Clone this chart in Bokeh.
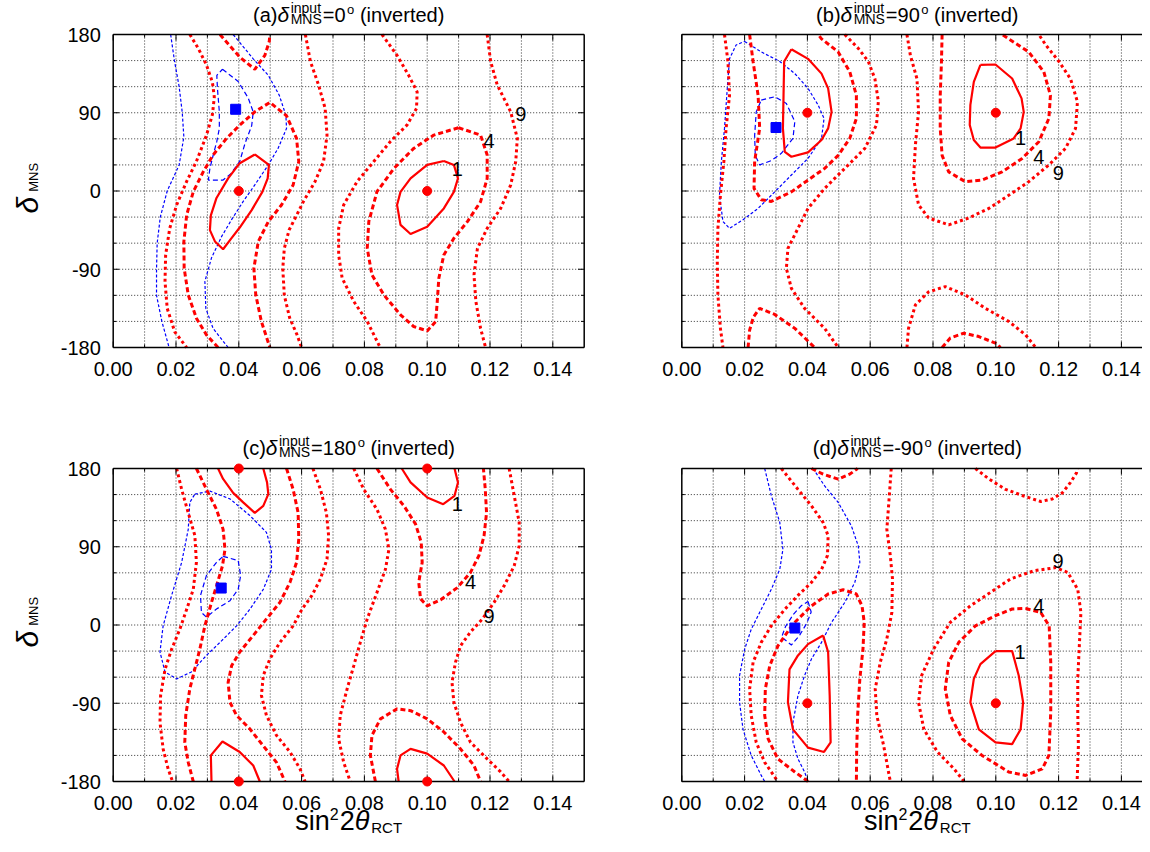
import math
from bokeh.plotting import figure
from bokeh.models import Range1d
from bokeh.core.properties import value
from bokeh.layouts import column, row
from bokeh.embed import file_html
from bokeh.resources import INLINE

FONT = "Liberation Sans"
RED = "#ff0000"
BLUE = "#0000ff"

# ---------------- axes ----------------
x_range_box = [0.0, 0.15]
y_range_box = [-180, 180]
x_major = [0.00, 0.02, 0.04, 0.06, 0.08, 0.10, 0.12, 0.14]
x_minor = [0.01, 0.03, 0.05, 0.07, 0.09, 0.11, 0.13]
x_tick_labels = ["0.00", "0.02", "0.04", "0.06", "0.08", "0.10", "0.12", "0.14"]
y_major = [-180, -90, 0, 90, 180]
y_minor = [-150, -120, -60, -30, 30, 60, 120, 150]
y_tick_labels = ["-180", "-90", "0", "90", "180"]

# ---------------- panel (a) delta_input = 0 ----------------
a_r1_left_x = [0.0451, 0.0496, 0.0492, 0.0475, 0.0441, 0.0403, 0.0375, 0.0350, 0.0324, 0.0308, 0.0311, 0.0329, 0.0366, 0.0403, 0.0451]
a_r1_left_y = [42, 30, 14.5, -1, -22, -42, -55, -67, -58, -45, -28, -8, 14.5, 32, 42]
a_r1_right_x = [0.1053, 0.1085, 0.1098, 0.1085, 0.1053, 0.1000, 0.0947, 0.0915, 0.0904, 0.0915, 0.0947, 0.1000, 0.1053]
a_r1_right_y = [34.5, 30, 14.5, -1, -20, -41, -49.4, -39, -16, -1, 14.5, 30, 34.5]
a_r4_left_x = [0.0334, 0.0297, 0.0265, 0.0239, 0.0226, 0.0225, 0.0234, 0.0255, 0.0287, 0.0318, 0.0361, 0.0403, 0.0451, 0.0499, 0.0552, 0.0584, 0.0591, 0.0573, 0.0536, 0.0494, 0.0462, 0.0448, 0.0454, 0.0472, 0.0499]
a_r4_left_y = [-180, -165.5, -146.3, -119.5, -88.9, -58.2, -27.6, -0.8, 22.2, 41.4, 60.5, 75.8, 91.1, 101.9, 86.5, 60.5, 33.7, 6.9, -16.1, -35.2, -58.2, -88.9, -119.5, -150.1, -180]
a_r4_top_x = [0.0340, 0.0403, 0.0451, 0.0483, 0.0497, 0.0499]
a_r4_top_y = [180, 154, 140, 156, 172, 180]
a_r4_right_x = [0.1100, 0.1170, 0.1191, 0.1191, 0.1170, 0.1128, 0.1085, 0.1053, 0.1037, 0.1032, 0.1027, 0.1000, 0.0957, 0.0915, 0.0862, 0.0824, 0.0809, 0.0814, 0.0840, 0.0894, 0.0957, 0.1021, 0.1100]
a_r4_right_y = [72.8, 64.3, 41.4, 14.5, -12.3, -35.2, -54.4, -73.5, -100.4, -127.2, -150.1, -160.9, -155.9, -142.5, -119.5, -96.5, -65.9, -35.2, -0.8, 26, 49, 64.3, 72.8]
a_r9_1_x = [0.0244, 0.0271, 0.0297, 0.0316, 0.0322, 0.0316, 0.0297, 0.0265, 0.0234, 0.0202, 0.0180, 0.0167, 0.0165, 0.0172, 0.0196, 0.0234]
a_r9_1_y = [180, 164, 145, 125, 108, 88, 64, 34, 11, -16, -43, -73.5, -104, -135, -162, -180]
a_r9_2_x = [0.0612, 0.0628, 0.0654, 0.0675, 0.0681, 0.0670, 0.0643, 0.0606, 0.0584, 0.0560, 0.0545, 0.0540, 0.0545, 0.0562, 0.0585, 0.0600]
a_r9_2_y = [180, 149, 122, 95, 64, 34, 11, -12, -28, -45, -66, -89, -120, -146, -165, -180]
a_r9_3_x = [0.0856, 0.0904, 0.0941, 0.0968, 0.0966, 0.0936, 0.0883, 0.0830, 0.0777, 0.0734, 0.0718, 0.0718, 0.0729, 0.0766, 0.0809, 0.0846, 0.0851]
a_r9_3_y = [180, 156, 133, 114, 95, 76, 57, 34, 11, -16, -43, -73.5, -100, -127, -150, -177, -180]
a_r9_4_x = [0.1191, 0.1202, 0.1223, 0.1266, 0.1287, 0.1282, 0.1266, 0.1234, 0.1191, 0.1160, 0.1149, 0.1155, 0.1170, 0.1186]
a_r9_4_y = [180, 149, 122, 91, 60.5, 34, 7, -20, -43, -66, -96.5, -127, -158, -180]
a_b1_x = [0.0348, 0.0398, 0.0430, 0.0446, 0.0441, 0.0420, 0.0403, 0.0375, 0.0350, 0.0303, 0.0308, 0.0319, 0.0330, 0.0338, 0.0338, 0.0332, 0.0330, 0.0348]
a_b1_y = [140, 126, 107, 91, 75, 55, 34, 20, 12.6, 12.6, 26, 42, 57, 72, 91, 118, 133, 140]
a_b4_left_x = [0.0183, 0.0195, 0.0210, 0.0220, 0.0225, 0.0210, 0.0172, 0.0150, 0.0140, 0.0138, 0.0138, 0.0155, 0.0178]
a_b4_left_y = [180, 150, 120, 90, 62, 30, 0, -30, -60, -90, -120, -150, -180]
a_b4_right_x = [0.0382, 0.0446, 0.0494, 0.0529, 0.0550, 0.0552, 0.0525, 0.0494, 0.0451, 0.0414, 0.0377, 0.0345, 0.0313, 0.0292, 0.0295, 0.0318, 0.0366]
a_b4_right_y = [180, 152, 133, 110, 87, 72, 49, 30, 7, -12, -33, -52.5, -77, -104, -135, -158, -180]
a_best_x = [0.04, 0.10]
a_best_y = [0, 0]
a_fit_x = [0.039]
a_fit_y = [94]
a_lbl_t = ["1", "4", "9"]
a_lbl_x = [0.1096, 0.1197, 0.1298]
a_lbl_y = [25, 58, 89]

# ---------------- panel (b) delta_input = 90 ----------------
b_r1_left_x = [0.0349, 0.0402, 0.0445, 0.0466, 0.0477, 0.0466, 0.0445, 0.0402, 0.0349, 0.0328, 0.0322, 0.0324, 0.0326, 0.0349]
b_r1_left_y = [163, 152, 135, 118, 91, 72, 58.6, 44.4, 39.4, 45, 72, 110, 149, 163]
b_r1_right_x = [0.0951, 0.0999, 0.1052, 0.1082, 0.1089, 0.1079, 0.1057, 0.0999, 0.0951, 0.0930, 0.0917, 0.0919, 0.0930, 0.0951]
b_r1_right_y = [145, 145.5, 129.4, 106.5, 91, 72, 60.5, 50, 50, 58.6, 76, 99, 125.6, 145]
b_r4_left_x = [0.0216, 0.0227, 0.0243, 0.0248, 0.0232, 0.0230, 0.0253, 0.0285, 0.0349, 0.0402, 0.0455, 0.0498, 0.0535, 0.0556, 0.0556, 0.0535, 0.0498, 0.0445, 0.0434]
b_r4_left_y = [180, 149, 110, 72, 34, 3, -10, -12, -1, 12.6, 26, 41, 60.5, 83.5, 110, 137, 160, 175, 180]
b_r4_bl_x = [0.0211, 0.0216, 0.0228, 0.0248, 0.0296, 0.0360, 0.0423]
b_r4_bl_y = [-180, -160, -145, -135, -142, -158, -180]
b_r4_right_x = [0.0829, 0.0827, 0.0823, 0.0823, 0.0829, 0.0850, 0.0903, 0.0956, 0.1020, 0.1084, 0.1137, 0.1169, 0.1174, 0.1153, 0.1105, 0.1041, 0.1020]
b_r4_right_y = [180, 149, 110, 72, 41, 22, 10.7, 12.6, 22, 37.5, 56.7, 83.5, 110, 137, 160, 175, 180]
b_r4_br_x = [0.0829, 0.0855, 0.0898, 0.0946, 0.0999, 0.1015]
b_r4_br_y = [-180, -169, -163.6, -167.4, -175, -180]
b_r9_1_x = [0.0136, 0.0147, 0.0152, 0.0141, 0.0134, 0.0123, 0.0115, 0.0113, 0.0115, 0.0123, 0.0131]
b_r9_1_y = [180, 149, 110, 72, 34, -5, -43, -81, -120, -158, -180]
b_r9_2_x = [0.0519, 0.0562, 0.0594, 0.0615, 0.0626, 0.0620, 0.0583, 0.0519, 0.0455, 0.0402, 0.0370, 0.0338, 0.0333, 0.0349, 0.0391, 0.0455, 0.0498]
b_r9_2_y = [180, 164, 149, 129, 103, 76, 49, 26, 3, -20, -43, -66, -89, -112, -135, -158, -180]
b_r9_3_x = [0.0717, 0.0728, 0.0749, 0.0754, 0.0744, 0.0738, 0.0754, 0.0786, 0.0850, 0.0914, 0.0978, 0.1041, 0.1105, 0.1169, 0.1222, 0.1254, 0.1260, 0.1238, 0.1201, 0.1159, 0.1137]
b_r9_3_y = [180, 156, 129, 91, 53, 14.5, -16, -31, -39, -31, -20, -5, 10.7, 30, 49, 72, 102.6, 129, 149, 168, 180]
b_r9_4_x = [0.0717, 0.0722, 0.0744, 0.0786, 0.0839, 0.0903, 0.0967, 0.1041, 0.1095, 0.1127]
b_r9_4_y = [-180, -158, -131, -116, -110, -119.5, -135, -150, -165.5, -180]
b_b1_x = [0.0253, 0.0296, 0.0333, 0.0360, 0.0354, 0.0317, 0.0285, 0.0248, 0.0234, 0.0232, 0.0237, 0.0253]
b_b1_y = [104.5, 108.4, 100.7, 80, 60.5, 43.3, 35, 30, 41, 64, 91, 104.5]
b_b4_x = [0.0200, 0.0253, 0.0312, 0.0360, 0.0402, 0.0434, 0.0453, 0.0445, 0.0402, 0.0349, 0.0296, 0.0243, 0.0195, 0.0152, 0.0131, 0.0120, 0.0126, 0.0136, 0.0147, 0.0152, 0.0173, 0.0200]
b_b4_y = [172, 160, 149, 135, 118, 99, 83.5, 60.5, 37.5, 18.4, -1, -20, -33, -43, -35, -5, 34, 72, 129, 152, 168, 172]
b_best_x = [0.04, 0.10]
b_best_y = [90, 90]
b_fit_x = [0.030]
b_fit_y = [73]
b_lbl_t = ["1", "4", "9"]
b_lbl_x = [0.1079, 0.1137, 0.1199]
b_lbl_y = [60.5, 39.4, 20.3]

# ---------------- panel (c) delta_input = 180 ----------------
c_r1_tl_x = [0.0334, 0.0350, 0.0382, 0.0414, 0.0451, 0.0478, 0.0494, 0.0490, 0.0478]
c_r1_tl_y = [180, 168, 152, 141, 129, 137, 150.5, 164, 180]
c_r1_bl_x = [0.0313, 0.0311, 0.0348, 0.0403, 0.0446, 0.0467]
c_r1_bl_y = [-180, -150, -134, -146, -161.6, -180]
c_r1_tr_x = [0.0919, 0.0947, 0.1000, 0.1051, 0.1087, 0.1098, 0.1087]
c_r1_tr_y = [180, 164, 146.7, 139, 148.6, 164, 180]
c_r1_br_x = [0.0909, 0.0904, 0.0915, 0.0947, 0.1000, 0.1053, 0.1087]
c_r1_br_y = [-180, -165.5, -150, -142.5, -148, -161.6, -180]
c_r4_1_x = [0.0265, 0.0297, 0.0329, 0.0350, 0.0356, 0.0348, 0.0329, 0.0313, 0.0292, 0.0276, 0.0260, 0.0244, 0.0231, 0.0228, 0.0239, 0.0255]
c_r4_1_y = [180, 156, 133, 110, 87, 68, 45, 26, -1, -27.6, -50.6, -73.5, -104, -135, -158, -180]
c_r4_2_x = [0.0552, 0.0573, 0.0589, 0.0591, 0.0584, 0.0563, 0.0531, 0.0488, 0.0446, 0.0403, 0.0377, 0.0366, 0.0372, 0.0393, 0.0435, 0.0478, 0.0520, 0.0547]
c_r4_2_y = [180, 156, 129, 99, 72, 49, 26, 7, -12, -31, -47, -66, -89, -104, -119.5, -139, -158, -180]
c_r4_3_x = [0.0840, 0.0883, 0.0926, 0.0963, 0.0981, 0.0984, 0.0973, 0.0979, 0.1000, 0.1043, 0.1096, 0.1138, 0.1165, 0.1181, 0.1189, 0.1185, 0.1179]
c_r4_3_y = [180, 156, 137, 116, 95, 72, 49, 30, 22, 29, 43, 60.5, 80, 102.6, 129, 156, 180]
c_r4_4_x = [0.0835, 0.0819, 0.0824, 0.0851, 0.0904, 0.0947, 0.1000, 0.1053, 0.1106, 0.1149, 0.1170]
c_r4_4_y = [-180, -150, -127, -108, -96.5, -98.5, -108, -123, -142.5, -161.6, -180]
c_r9_1_x = [0.0202, 0.0218, 0.0239, 0.0260, 0.0265, 0.0255, 0.0234, 0.0212, 0.0186, 0.0165, 0.0151, 0.0149, 0.0159, 0.0175, 0.0189]
c_r9_1_y = [180, 156, 129, 103, 72, 41, 18, -5, -28, -51, -81, -112, -142.5, -165.5, -180]
c_r9_2_x = [0.0636, 0.0660, 0.0679, 0.0686, 0.0681, 0.0660, 0.0633, 0.0601, 0.0573, 0.0531, 0.0499, 0.0478, 0.0472, 0.0488, 0.0520, 0.0563, 0.0595, 0.0611]
c_r9_2_y = [180, 156, 129, 103, 76, 53, 34, 18, -1, -20, -39, -58, -81, -104, -127, -146, -165.5, -180]
c_r9_3_x = [0.0766, 0.0798, 0.0840, 0.0867, 0.0878, 0.0867, 0.0840, 0.0809, 0.0787, 0.0766, 0.0745, 0.0723, 0.0718, 0.0734, 0.0755]
c_r9_3_y = [180, 156, 133, 110, 87, 64, 37.5, 7, -20, -47, -73.5, -104, -131, -158, -180]
c_r9_4_x = [0.1261, 0.1277, 0.1293, 0.1293, 0.1277, 0.1245, 0.1213, 0.1176, 0.1138, 0.1106, 0.1090, 0.1079, 0.1085, 0.1106, 0.1138, 0.1191, 0.1234, 0.1261]
c_r9_4_y = [180, 149, 118, 91, 68, 45, 26, 7, -8, -24, -43, -66, -89, -112, -135, -154, -169, -180]
c_b1_x = [0.0350, 0.0398, 0.0406, 0.0398, 0.0372, 0.0329, 0.0297, 0.0281, 0.0278, 0.0297, 0.0329, 0.0350]
c_b1_y = [79, 74, 57, 41, 28, 18.4, 9, 14.5, 34, 57, 72, 79]
c_b4_x = [0.0260, 0.0308, 0.0372, 0.0435, 0.0488, 0.0504, 0.0504, 0.0478, 0.0435, 0.0393, 0.0340, 0.0297, 0.0249, 0.0202, 0.0165, 0.0149, 0.0159, 0.0186, 0.0218, 0.0239, 0.0244, 0.0260]
c_b4_y = [150.5, 154, 145, 126, 106.5, 87, 64, 41, 18, -1, -20, -35, -54, -62, -54, -31, -1, 34, 72, 110, 141, 150.5]
c_best_x = [0.04, 0.04, 0.10, 0.10]
c_best_y = [180, -180, 180, -180]
c_fit_x = [0.0344]
c_fit_y = [42.5]
c_lbl_t = ["1", "4", "9"]
c_lbl_x = [0.1096, 0.1138, 0.1197]
c_lbl_y = [139, 49, 10.7]

# ---------------- panel (d) delta_input = -90 ----------------
d_r1_left_x = [0.0450, 0.0466, 0.0471, 0.0474, 0.0453, 0.0402, 0.0354, 0.0338, 0.0343, 0.0370, 0.0402, 0.0450]
d_r1_left_y = [-12, -31, -81, -135, -146, -141, -120, -89, -51, -35, -22, -12]
d_r1_right_x = [0.0999, 0.1052, 0.1073, 0.1087, 0.1079, 0.1052, 0.0999, 0.0946, 0.0919, 0.0930, 0.0951, 0.0999]
d_r1_right_y = [-30, -30, -58, -89, -120, -137, -135, -120, -89, -62, -45, -30]
d_r4_left_x = [0.0402, 0.0360, 0.0306, 0.0275, 0.0264, 0.0266, 0.0280, 0.0306, 0.0354, 0.0413, 0.0466, 0.0514, 0.0556, 0.0574, 0.0581, 0.0577, 0.0567, 0.0560, 0.0557, 0.0556]
d_r4_left_y = [-180, -169, -154, -131, -104, -73.5, -47, -24, 1, 22, 35.6, 40.6, 35.6, 22, 3, -27.6, -62, -104, -142.5, -180]
d_r4_top_x = [0.0413, 0.0450, 0.0498, 0.0535, 0.0560]
d_r4_top_y = [180, 173.5, 167.7, 173.5, 180]
d_r4_right_x = [0.1095, 0.1143, 0.1170, 0.1175, 0.1175, 0.1169, 0.1148, 0.1095, 0.1041, 0.0956, 0.0893, 0.0855, 0.0839, 0.0850, 0.0882, 0.0935, 0.0999, 0.1052, 0.1095]
d_r4_right_y = [19, 14.5, -1, -43, -100, -150, -165.5, -173, -169, -150, -131, -104, -73.5, -43, -20, -1, 10.7, 18.4, 19]
d_r9_1_x = [0.0317, 0.0370, 0.0413, 0.0450, 0.0466, 0.0464, 0.0445, 0.0413, 0.0370, 0.0328, 0.0285, 0.0253, 0.0227, 0.0216, 0.0221, 0.0237, 0.0264, 0.0306]
d_r9_1_y = [180, 156, 137, 118, 102.6, 80, 64, 49, 34, 18, -1, -20, -43, -73.5, -104, -135, -158, -180]
d_r9_2_x = [0.0667, 0.0661, 0.0653, 0.0664, 0.0671, 0.0669, 0.0653, 0.0632, 0.0616, 0.0621, 0.0643, 0.0664]
d_r9_2_y = [180, 149, 110, 80, 53, 14.5, -16, -43, -73.5, -104, -139, -180]
d_r9_3_x = [0.0935, 0.0978, 0.1031, 0.1084, 0.1143, 0.1180, 0.1212, 0.1238, 0.1257, 0.1260]
d_r9_3_y = [180, 168, 156, 149, 142, 145, 152, 164, 175, 180]
d_r9_4_x = [0.0899, 0.0867, 0.0814, 0.0771, 0.0754, 0.0764, 0.0802, 0.0855, 0.0919, 0.0983, 0.1047, 0.1122, 0.1191, 0.1229, 0.1261, 0.1271, 0.1266, 0.1261, 0.1261, 0.1263, 0.1259]
d_r9_4_y = [-180, -165.5, -146, -120, -89, -58, -27.6, 3, 22, 37.5, 53, 62.4, 66, 60.5, 41, 14.5, -24, -62, -100, -139, -180]
d_b1_x = [0.0402, 0.0412, 0.0398, 0.0375, 0.0349, 0.0318, 0.0330, 0.0355, 0.0380, 0.0402]
d_b1_y = [27, 15, 2, -12, -23, -14, -2, 12, 22, 27]
d_b4_left_x = [0.0264, 0.0285, 0.0312, 0.0322, 0.0312, 0.0285, 0.0253, 0.0221, 0.0200, 0.0184, 0.0184, 0.0195, 0.0221, 0.0253, 0.0264]
d_b4_left_y = [180, 149, 118, 87, 64, 41, 18, -5, -28, -58, -89, -120, -150, -173, -180]
d_b4_right_x = [0.0418, 0.0455, 0.0498, 0.0540, 0.0562, 0.0567, 0.0551, 0.0519, 0.0477, 0.0445, 0.0413, 0.0391, 0.0370, 0.0354, 0.0354, 0.0370, 0.0391, 0.0402]
d_b4_right_y = [180, 160, 141, 114, 91, 72, 49, 26, 3, -20, -39, -58, -81, -112, -135, -154, -169, -180]
d_best_x = [0.04, 0.10]
d_best_y = [-90, -90]
d_fit_x = [0.036]
d_fit_y = [-3.5]
d_lbl_t = ["1", "4", "9"]
d_lbl_x = [0.1077, 0.1137, 0.1198]
d_lbl_y = [-31, 22, 74]

# ---------------- styles ----------------
STYLES = {
    "r1": dict(line_color=RED, line_width=2.2),
    "r4": dict(line_color=RED, line_width=3, line_dash="5 3"),
    "r9": dict(line_color=RED, line_width=3, line_dash="3 3"),
    "b1": dict(line_color=BLUE, line_width=1.2, line_dash="5 3"),
    "b4": dict(line_color=BLUE, line_width=1.2, line_dash="3 2"),
}

PANELS = [
    dict(letter="a", val="0", top=True, left=True,
         curves=[("b4", a_b4_left_x, a_b4_left_y), ("b4", a_b4_right_x, a_b4_right_y), ("b1", a_b1_x, a_b1_y),
                 ("r9", a_r9_1_x, a_r9_1_y), ("r9", a_r9_2_x, a_r9_2_y), ("r9", a_r9_3_x, a_r9_3_y), ("r9", a_r9_4_x, a_r9_4_y),
                 ("r4", a_r4_left_x, a_r4_left_y), ("r4", a_r4_top_x, a_r4_top_y), ("r4", a_r4_right_x, a_r4_right_y),
                 ("r1", a_r1_left_x, a_r1_left_y), ("r1", a_r1_right_x, a_r1_right_y)],
         best=(a_best_x, a_best_y), fit=(a_fit_x, a_fit_y), lbl=(a_lbl_t, a_lbl_x, a_lbl_y)),
    dict(letter="b", val="90", top=True, left=False,
         curves=[("b4", b_b4_x, b_b4_y), ("b1", b_b1_x, b_b1_y),
                 ("r9", b_r9_1_x, b_r9_1_y), ("r9", b_r9_2_x, b_r9_2_y), ("r9", b_r9_3_x, b_r9_3_y), ("r9", b_r9_4_x, b_r9_4_y),
                 ("r4", b_r4_left_x, b_r4_left_y), ("r4", b_r4_bl_x, b_r4_bl_y), ("r4", b_r4_right_x, b_r4_right_y), ("r4", b_r4_br_x, b_r4_br_y),
                 ("r1", b_r1_left_x, b_r1_left_y), ("r1", b_r1_right_x, b_r1_right_y)],
         best=(b_best_x, b_best_y), fit=(b_fit_x, b_fit_y), lbl=(b_lbl_t, b_lbl_x, b_lbl_y)),
    dict(letter="c", val="180", top=False, left=True,
         curves=[("b4", c_b4_x, c_b4_y), ("b1", c_b1_x, c_b1_y),
                 ("r9", c_r9_1_x, c_r9_1_y), ("r9", c_r9_2_x, c_r9_2_y), ("r9", c_r9_3_x, c_r9_3_y), ("r9", c_r9_4_x, c_r9_4_y),
                 ("r4", c_r4_1_x, c_r4_1_y), ("r4", c_r4_2_x, c_r4_2_y), ("r4", c_r4_3_x, c_r4_3_y), ("r4", c_r4_4_x, c_r4_4_y),
                 ("r1", c_r1_tl_x, c_r1_tl_y), ("r1", c_r1_bl_x, c_r1_bl_y), ("r1", c_r1_tr_x, c_r1_tr_y), ("r1", c_r1_br_x, c_r1_br_y)],
         best=(c_best_x, c_best_y), fit=(c_fit_x, c_fit_y), lbl=(c_lbl_t, c_lbl_x, c_lbl_y)),
    dict(letter="d", val="-90", top=False, left=False,
         curves=[("b4", d_b4_left_x, d_b4_left_y), ("b4", d_b4_right_x, d_b4_right_y), ("b1", d_b1_x, d_b1_y),
                 ("r9", d_r9_1_x, d_r9_1_y), ("r9", d_r9_2_x, d_r9_2_y), ("r9", d_r9_3_x, d_r9_3_y), ("r9", d_r9_4_x, d_r9_4_y),
                 ("r4", d_r4_left_x, d_r4_left_y), ("r4", d_r4_top_x, d_r4_top_y), ("r4", d_r4_right_x, d_r4_right_y),
                 ("r1", d_r1_left_x, d_r1_left_y), ("r1", d_r1_right_x, d_r1_right_y)],
         best=(d_best_x, d_best_y), fit=(d_fit_x, d_fit_y), lbl=(d_lbl_t, d_lbl_x, d_lbl_y)),
]

# ---------------- geometry (pixels of the picture) ----------------
PXX = 3140.0            # px per unit of sin^2 2theta (31.4 px per 0.01)
PXY = 313.0 / 360.0     # px per degree
MID = 0.3465            # distance (em) from the alphabetic baseline up to the text's middle
COLS = {True: dict(ox=0, W=592, fl=112.7), False: dict(ox=592, W=550, fl=681.3)}
ROWS = {True: dict(oy=0, H=420, ft=34.0), False: dict(oy=420, H=416, ft=468.0)}

EM = {'(': 0.333, ')': 0.333, 'a': 0.556, 'b': 0.556, 'c': 0.5, 'd': 0.556, '=': 0.584, '-': 0.333,
      ' ': 0.278, 'i': 0.222, 'n': 0.556, 'v': 0.5, 'e': 0.556, 'r': 0.333, 't': 0.278, 'p': 0.556,
      'u': 0.556, 'M': 0.833, 'N': 0.722, 'S': 0.667, 'o': 0.556, 's': 0.5, 'R': 0.722, 'C': 0.722,
      'T': 0.611}


def tw(s, size):
    return sum(EM.get(ch, 0.556) for ch in s) * size


def make_panel(spec):
    col, rw = COLS[spec["left"]], ROWS[spec["top"]]
    ox, W, fl = col["ox"], col["W"], col["fl"]
    oy, H, ft = rw["oy"], rw["H"], rw["ft"]

    def X(px):
        return (px - fl) / PXX

    def Y(py):
        return 180 - (py - ft) / PXY

    p = figure(width=W, height=H, x_range=Range1d(X(ox), X(ox + W)), y_range=Range1d(Y(oy + H), Y(oy)),
               x_axis_type=None, y_axis_type=None, output_backend="svg", toolbar_location=None,
               min_border_left=0, min_border_right=0, min_border_top=0, min_border_bottom=0)
    p.outline_line_color = None
    p.background_fill_color = "white"
    p.border_fill_color = "white"

    x0, x1 = x_range_box
    y0, y1 = y_range_box

    # dotted grid
    gx = [v for v in x_major + x_minor if x0 < v < x1]
    gy = [v for v in y_major + y_minor if y0 < v < y1]
    grid = dict(line_color="#333333", line_width=1, line_dash="1 2")
    p.segment(x0=gx, y0=[y0] * len(gx), x1=gx, y1=[y1] * len(gx), **grid)
    p.segment(x0=[x0] * len(gy), y0=gy, x1=[x1] * len(gy), y1=gy, **grid)

    # contours
    for st, xs, ys in spec["curves"]:
        p.line(xs, ys, **STYLES[st])

    # frame
    p.segment(x0=[x0, x0, x0, x1], y0=[y0, y1, y0, y0], x1=[x1, x1, x0, x1], y1=[y0, y1, y1, y1],
              line_color="black", line_width=1.5)
    # inward ticks on all four sides
    for ticks, ln in ((x_major, 6), (x_minor, 3)):
        d = ln / PXY
        n = len(ticks)
        p.segment(x0=ticks, y0=[y0] * n, x1=ticks, y1=[y0 + d] * n, line_color="black", line_width=1)
        p.segment(x0=ticks, y0=[y1] * n, x1=ticks, y1=[y1 - d] * n, line_color="black", line_width=1)
    for ticks, ln in ((y_major, 6), (y_minor, 3)):
        d = ln / PXX
        n = len(ticks)
        p.segment(x0=[x0] * n, y0=ticks, x1=[x0 + d] * n, y1=ticks, line_color="black", line_width=1)
        p.segment(x0=[x1] * n, y0=ticks, x1=[x1 - d] * n, y1=ticks, line_color="black", line_width=1)

    # markers
    bx, by = spec["best"]
    p.scatter(bx, by, marker="circle", size=9, fill_color=RED, line_color=RED)
    fx, fy = spec["fit"]
    p.scatter(fx, fy, marker="square", size=10, fill_color=BLUE, line_color=BLUE)

    def txt(xs, ys, texts, size, style="normal", align="left", angle=0.0):
        p.text(x=xs, y=ys, text=texts, angle=angle, text_font=value(FONT), text_font_size=value(f"{size}px"),
               text_font_style=style, text_align=align, text_baseline="middle", text_color="black")

    def put(px, py_base, s, size, style="normal", align="left"):
        # place text so that its alphabetic baseline sits at picture row py_base
        txt([X(px)], [Y(py_base - MID * size)], [s], size, style, align)

    # contour level labels (centred)
    t, lx, ly = spec["lbl"]
    txt(lx, ly, t, 20, align="center")

    # tick labels
    fb = ft + 313
    n = len(x_major)
    txt(x_major, [Y(fb + 28.7 - MID * 20)] * n, x_tick_labels, 20, align="center")
    # y tick labels: right edge 12.4 px left of the frame, laid out from their left edge
    txt([X(100.3 - tw(s, 20)) for s in y_tick_labels], [v - (7.2 - MID * 20) / PXY for v in y_major],
        y_tick_labels, 20, align="left")

    # panel title
    cx = fl + 235.5
    base = ft - 13.4 + (1.0 if spec["top"] else 0.0)
    s1 = "(" + spec["letter"] + ")"
    s2 = "=" + spec["val"]
    pieces = [(s1, 20, "normal", 0, tw(s1, 20)),
              ("δ", 21, "italic", 0, 0.556 * 21 + 1.5),
              ("input", 14, "normal", -8.8, 0),
              ("MNS", 14, "normal", 2, max(tw("input", 14), tw("MNS", 14)) + 1.0),
              (s2, 20, "normal", 0, tw(s2, 20) + 1.5),
              ("o", 13, "normal", -8, tw("o", 13) + tw(" ", 20)),
              ("(inverted)", 20, "normal", 0, tw("(inverted)", 20))]
    total = sum(pc[4] for pc in pieces)
    x = cx - total / 2
    for s, size, stl, off, adv in pieces:
        put(x, base + off, s, size, stl)
        x += adv

    # vertical axis title (reads upward; baseline is the right-hand side of the glyphs)
    if spec["left"]:
        ys = ft + 179
        for bx_px, start, s, size, stl in ((37, ys, "δ", 30, "italic"),
                                           (38, ys - 0.556 * 30 - 5, "MNS", 13, "normal")):
            txt([X(bx_px - MID * size)], [Y(start)], [s], size, stl, angle=math.pi / 2)

    # horizontal axis title
    if not spec["top"]:
        xb = 829.5
        parts = [("sin", 27, "normal", 0, 0.0), ("2", 16, "normal", -10, 1.0), ("2", 27, "normal", 0, 0.0),
                 ("θ", 27, "italic", 0, 1.5), ("RCT", 15, "normal", 2.5, 0.0)]
        tot = sum(tw(s, z) + g for s, z, _, _, g in parts)
        x = cx - tot / 2
        for s, z, stl, off, g in parts:
            put(x, xb + off, s, z, stl)
            x += tw(s, z) + g
    return p


figs = [make_panel(s) for s in PANELS]
layout = column(row(figs[0], figs[1]), row(figs[2], figs[3]))
open("out.html", "w").write(file_html(layout, INLINE))
